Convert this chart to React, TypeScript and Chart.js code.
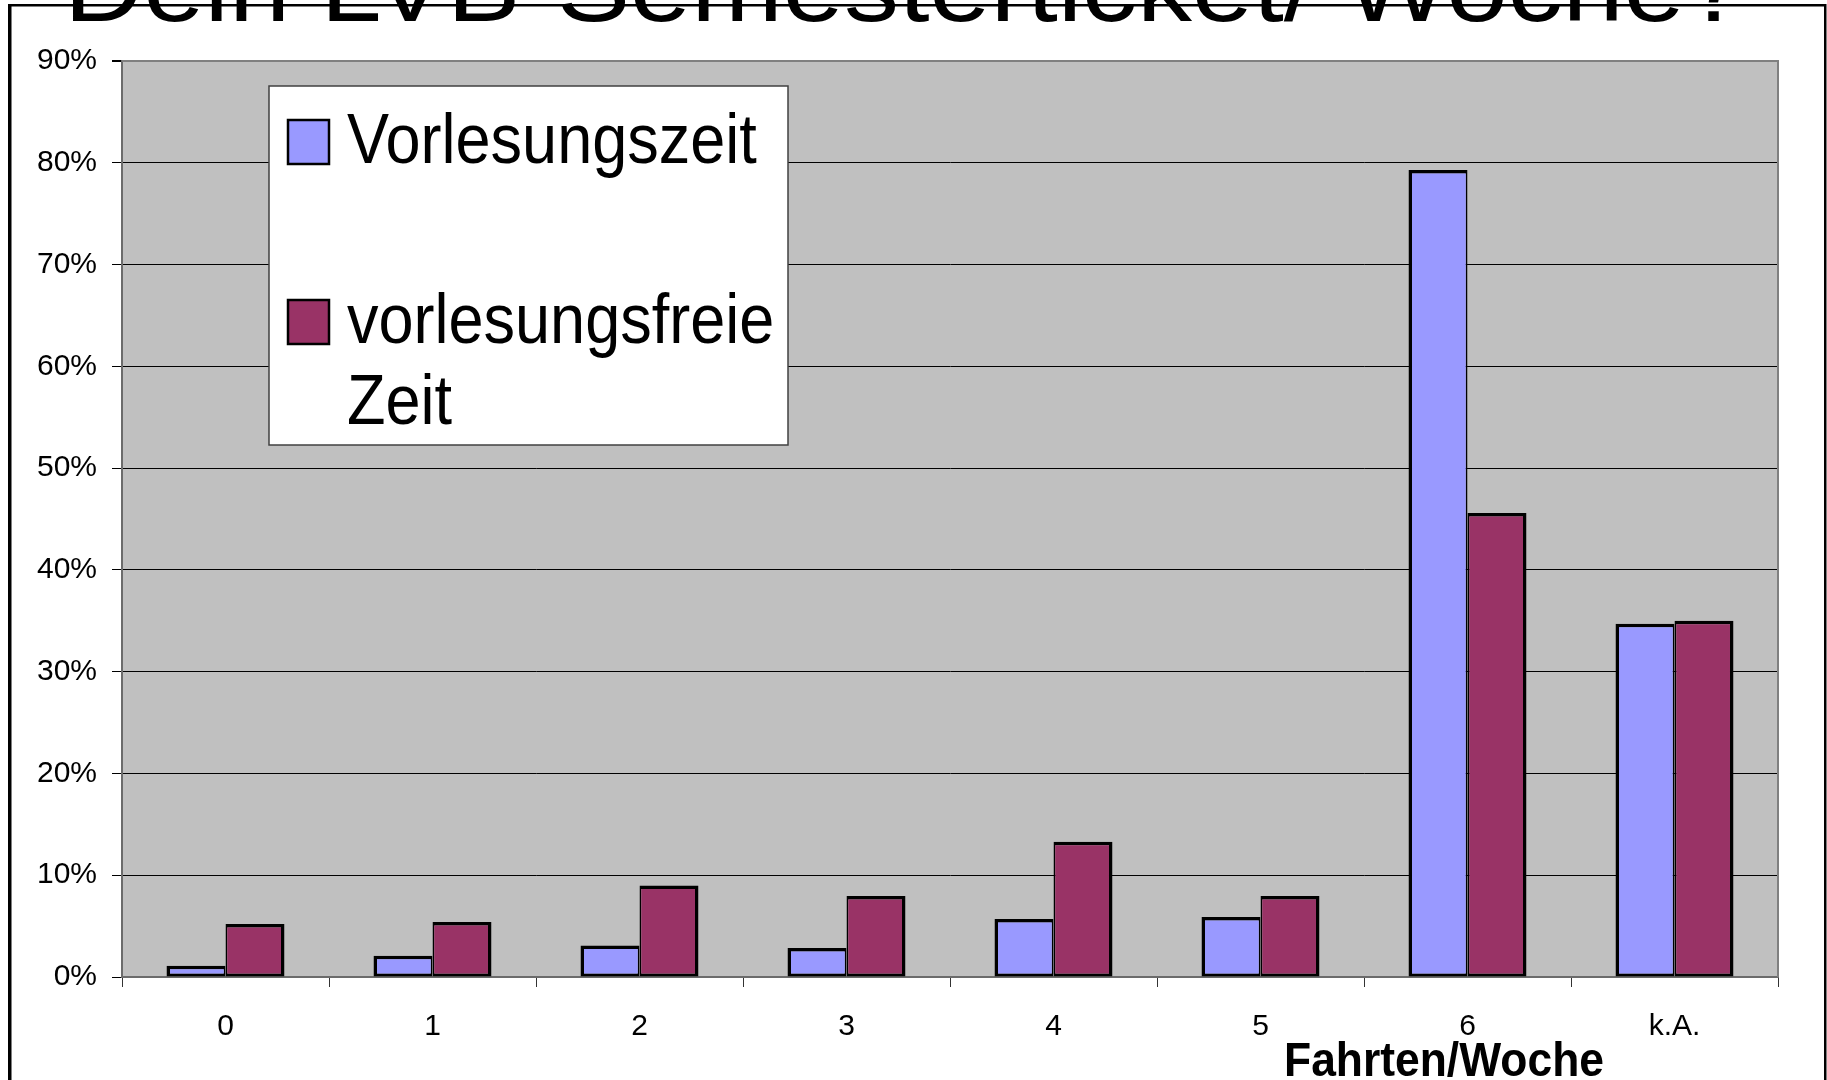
import React, { useEffect, useRef } from 'react';
import { Chart, registerables } from 'chart.js';

Chart.register(...registerables);

// ---- data ----
const categories = ['0', '1', '2', '3', '4', '5', '6', 'k.A.'];
const seriesNames = ['Vorlesungszeit', 'vorlesungsfreie Zeit'];
const lectureValues = [1.1, 2.1, 3.1, 2.85, 5.7, 5.9, 79.3, 34.7];
const breakValues = [5.2, 5.4, 9.0, 7.95, 13.3, 7.95, 45.6, 35.0];
const seriesColors = ['#9999FF', '#993366'];
const yMin = 0;
const yMax = 90;
const yStep = 10;
const titleText = 'Dein LVB-Semesterticket/ Woche?';
const xAxisTitle = 'Fahrten/Woche';

const W = 1827;
const H = 1080;
const FONT = '"Liberation Sans", Arial, Helvetica, sans-serif';

const decorPlugin = {
  id: 'decor',
  beforeDraw(chart: any) {
    const { ctx, chartArea: a } = chart;
    ctx.save();
    ctx.fillStyle = '#ffffff';
    ctx.fillRect(0, 0, W, H);
    ctx.fillStyle = '#C0C0C0';
    ctx.fillRect(a.left, a.top, a.right - a.left, a.bottom - a.top);
    ctx.restore();
  },
  beforeDatasetsDraw(chart: any) {
    const { ctx, chartArea: a } = chart;
    ctx.save();
    ctx.strokeStyle = '#808080';
    ctx.lineWidth = 2;
    ctx.beginPath();
    ctx.moveTo(a.left, a.top);
    ctx.lineTo(a.right, a.top);
    ctx.lineTo(a.right, a.bottom);
    ctx.stroke();
    ctx.restore();
  },
  afterDraw(chart: any) {
    const { ctx } = chart;
    ctx.save();
    // title (cut off at the top)
    ctx.fillStyle = '#000';
    ctx.font = `100px ${FONT}`;
    ctx.textAlign = 'left';
    ctx.textBaseline = 'alphabetic';
    const tw = ctx.measureText(titleText).width;
    ctx.save();
    ctx.translate(64, 21);
    ctx.scale(1682 / tw, 1);
    ctx.fillText(titleText, 0, 0);
    ctx.restore();

    // frame lines
    ctx.fillStyle = '#000';
    ctx.fillRect(8, 4, 1818, 2.5);
    ctx.fillRect(8, 4, 3.5, H);
    ctx.fillRect(1824, 4, 2.5, H);

    // x axis title
    ctx.font = `bold 49px ${FONT}`;
    const xw = ctx.measureText(xAxisTitle).width;
    ctx.save();
    ctx.translate(1284, 1076);
    ctx.scale(320 / xw, 1);
    ctx.fillText(xAxisTitle, 0, 0);
    ctx.restore();

    // legend
    const bx = 269, by = 86, bw = 519, bh = 359;
    ctx.fillStyle = '#ffffff';
    ctx.fillRect(bx, by, bw, bh);
    ctx.strokeStyle = '#404040';
    ctx.lineWidth = 1.5;
    ctx.strokeRect(bx, by, bw, bh);
    const sx = 0.9;
    ctx.font = `70px ${FONT}`;
    const baselines = [163, 343];
    const lineH = 81;
    chart.data.datasets.forEach((ds: any, i: number) => {
      const base = baselines[i];
      ctx.fillStyle = ds.backgroundColor;
      ctx.fillRect(288, base - 43, 41, 44);
      ctx.strokeStyle = '#000';
      ctx.lineWidth = 2.5;
      ctx.strokeRect(288, base - 43, 41, 44);
      // wrap label
      const words = String(ds.label).split(' ');
      const lines: string[] = [];
      let cur = '';
      words.forEach((w) => {
        const test = cur ? cur + ' ' + w : w;
        if (ctx.measureText(test).width * sx > 435 && cur) {
          lines.push(cur);
          cur = w;
        } else cur = test;
      });
      if (cur) lines.push(cur);
      ctx.fillStyle = '#000';
      lines.forEach((ln, j) => {
        ctx.save();
        ctx.translate(347, base + j * lineH);
        ctx.scale(sx, 1);
        ctx.fillText(ln, 0, 0);
        ctx.restore();
      });
    });
    ctx.restore();
  },
};

export default function App() {
  const ref = useRef<HTMLCanvasElement>(null);
  useEffect(() => {
    if (!ref.current) return;
    const chart = new Chart(ref.current, {
      type: 'bar',
      data: {
        labels: categories,
        datasets: [
          {
            label: seriesNames[0],
            data: lectureValues,
            backgroundColor: seriesColors[0],
            borderColor: '#000',
            borderWidth: { top: 3.5, left: 3.5, right: 1.75, bottom: 3 },
            borderSkipped: false,
            categoryPercentage: 0.57,
            barPercentage: 1.0,
          },
          {
            label: seriesNames[1],
            data: breakValues,
            backgroundColor: seriesColors[1],
            borderColor: '#000',
            borderWidth: { top: 3.5, left: 1.75, right: 3.5, bottom: 3 },
            borderSkipped: false,
            categoryPercentage: 0.57,
            barPercentage: 1.0,
          },
        ],
      },
      options: {
        responsive: false,
        animation: false,
        devicePixelRatio: 1,
        layout: { padding: { top: 61, right: 49, left: 0, bottom: 0 } },
        plugins: {
          legend: { display: false },
          tooltip: { enabled: false },
          title: { display: false },
        },
        scales: {
          x: {
            grid: {
              display: true,
              drawOnChartArea: false,
              drawTicks: true,
              tickLength: 10,
              color: '#333',
              offset: true,
            },
            border: { display: true, color: '#6b6b6b', width: 2 },
            ticks: {
              font: { family: FONT, size: 30 },
              color: '#000',
              padding: 22,
              maxRotation: 0,
              autoSkip: false,
            },
            afterFit: (s: any) => {
              s.height = 103;
            },
          },
          y: {
            min: yMin,
            max: yMax,
            ticks: {
              stepSize: yStep,
              callback: (v: any) => v + '%',
              font: { family: FONT, size: 30 },
              color: '#000',
              padding: 15,
            },
            grid: {
              color: (c: any) => (c.tick && c.tick.value === yMax ? '#808080' : '#000'),
              lineWidth: (c: any) => (c.tick && c.tick.value === yMax ? 2 : 1),
              tickColor: '#000',
              tickLength: 10,
            },
            border: { display: true, color: '#6b6b6b', width: 2 },
            afterFit: (s: any) => {
              s.width = 122;
            },
          },
        },
      },
      plugins: [decorPlugin],
    } as any);
    return () => chart.destroy();
  }, []);
  return (
    <div style={{ position: 'absolute', left: 0, top: 0, width: W, height: H, background: '#fff' }}>
      <canvas ref={ref} width={W} height={H} style={{ width: W, height: H, display: 'block' }} />
    </div>
  );
}
